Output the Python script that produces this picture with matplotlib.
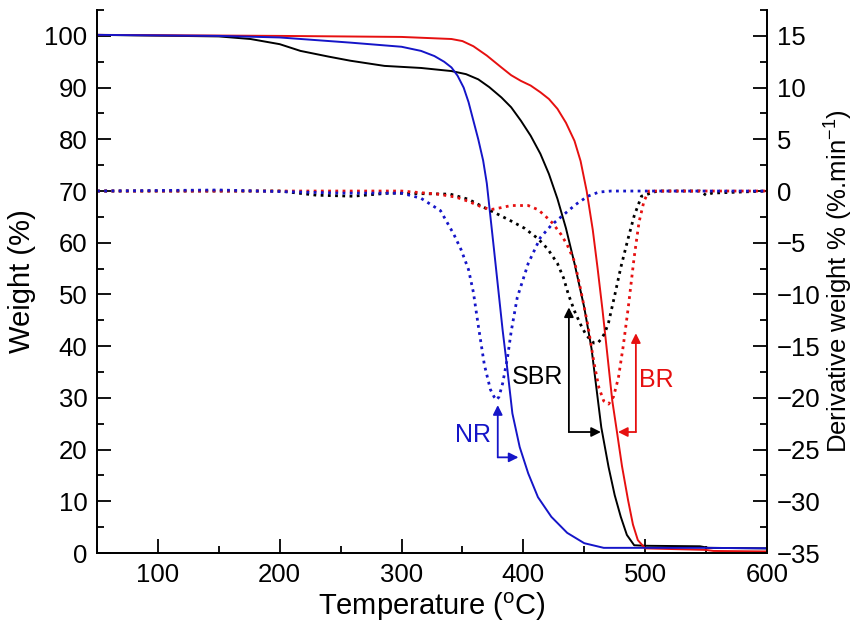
import numpy as np
import matplotlib
matplotlib.use("Agg")
import matplotlib.pyplot as plt

plt.rcParams['font.family'] = ['Liberation Sans', 'DejaVu Sans']
plt.rcParams['mathtext.fontset'] = 'custom'
plt.rcParams['mathtext.rm'] = 'Liberation Sans'
plt.rcParams['mathtext.it'] = 'Liberation Sans'

### TGA weight curves (%) ###
t_nr = [50, 150, 200, 258, 300, 316, 327, 335, 341, 346, 351, 355, 359, 363, 367, 370, 376, 383, 387, 391, 397, 404, 412, 423, 436, 450, 466, 550, 600]
w_nr = [100.2, 100.0, 99.7, 98.7, 97.9, 97.1, 96.1, 95.0, 93.9, 92.3, 90.0, 87.2, 83.6, 80.0, 75.9, 71.5, 58.5, 43.1, 35.3, 27.0, 20.5, 15.4, 10.8, 7.0, 3.9, 1.9, 1.0, 1.0, 0.9]

t_sbr = [50, 150, 176, 200, 217, 240, 258, 286, 316, 341, 353, 363, 372, 382, 390, 398, 406, 414, 421, 428, 435, 442, 450, 456, 464, 470, 475, 480, 485, 491, 500, 545, 552, 600]
w_sbr = [100.2, 99.9, 99.4, 98.4, 97.1, 96.0, 95.2, 94.2, 93.8, 93.2, 92.6, 91.6, 90.1, 88.1, 86.2, 83.6, 80.7, 77.2, 73.3, 68.5, 62.8, 56.0, 47.5, 39.5, 24.3, 16.6, 11.2, 7.0, 3.5, 1.5, 1.4, 1.3, 1.0, 0.9]

t_br = [50, 200, 300, 341, 350, 359, 370, 382, 390, 398, 406, 414, 421, 428, 435, 442, 447, 452, 457, 461, 465, 468, 473, 477, 481, 486, 490, 494, 500, 550, 556, 600]
w_br = [100.2, 100.0, 99.8, 99.4, 99.0, 98.0, 96.2, 93.9, 92.4, 91.3, 90.4, 89.1, 87.8, 85.9, 83.2, 79.7, 75.8, 70.0, 62.5, 55.0, 47.0, 40.5, 29.5, 23.2, 16.8, 10.2, 5.5, 2.5, 0.9, 0.6, 0.4, 0.3]

### DTG curves (%/min) ###
td_nr = [50, 150, 250, 300, 316, 332, 343, 349, 355, 359, 363, 368, 373, 376, 378, 380, 383, 387, 390, 395, 404, 414, 423, 433, 443, 453, 462, 472, 600]
d_nr = [0.0, 0.1, -0.2, -0.2, -0.7, -1.9, -4.2, -5.7, -7.6, -9.8, -13.0, -16.8, -19.2, -19.9, -20.2, -19.9, -18.6, -16.1, -13.6, -10.3, -7.0, -4.5, -3.3, -2.3, -1.3, -0.5, -0.1, 0.0, 0.0]

td_sbr = [50, 200, 230, 260, 290, 340, 355, 368, 380, 390, 401, 412, 420, 428, 433, 437, 442, 447, 451, 455, 458, 461, 464, 467, 470, 475, 480, 486, 491, 497, 510, 545, 550, 555, 600]
d_sbr = [0.0, 0.0, -0.4, -0.5, -0.2, -0.3, -0.8, -1.6, -2.3, -2.9, -3.6, -4.6, -5.6, -7.0, -8.4, -10.0, -11.6, -12.9, -13.8, -14.4, -14.7, -14.7, -14.3, -13.7, -12.7, -10.1, -7.4, -4.6, -2.4, -0.5, 0.0, 0.0, -0.4, -0.2, 0.0]

td_br = [50, 300, 330, 345, 355, 365, 373, 382, 390, 404, 412, 417, 424, 431, 436, 442, 447, 453, 458, 462, 466, 470, 474, 478, 482, 486, 491, 495, 499, 503, 600]
d_br = [0.0, 0.0, -0.3, -0.6, -1.0, -1.5, -1.8, -1.6, -1.4, -1.4, -1.8, -2.3, -3.1, -4.2, -5.2, -6.8, -9.5, -13.0, -16.6, -19.0, -20.3, -20.6, -19.9, -18.1, -15.0, -11.4, -6.4, -3.0, -1.0, 0.0, 0.0]

blue = '#1515c8'
red = '#e61010'

fig = plt.figure(figsize=(8.55, 6.28), dpi=100)
ax = fig.add_axes([0.1135, 0.1194, 0.7835, 0.8646])
ax2 = ax.twinx()

ax.plot(t_sbr, w_sbr, color='black', lw=1.4)
ax.plot(t_br, w_br, color=red, lw=1.4)
ax.plot(t_nr, w_nr, color=blue, lw=1.4)

ax2.plot(td_sbr, d_sbr, color='black', lw=2.0, ls=(0, (1, 1.6)))
ax2.plot(td_br, d_br, color=red, lw=2.0, ls=(0, (1, 1.6)))
ax2.plot(td_nr, d_nr, color=blue, lw=2.0, ls=(0, (1, 1.6)))

ax.set_xlim(50, 600)
ax.set_ylim(0, 105)
ax2.set_ylim(-35, 17.5)

ax.set_xticks(range(100, 601, 100))
ax.set_xticks(range(50, 601, 50), minor=True)
ax.set_yticks(range(0, 101, 10))
ax.set_yticks(range(0, 106, 5), minor=True)
ax2.set_yticks(range(-35, 16, 5))
ax2.set_yticks(np.arange(-35, 17.6, 2.5), minor=True)

for a in (ax, ax2):
    a.spines['top'].set_visible(False)
    for s in ('left', 'right', 'bottom'):
        a.spines[s].set_linewidth(1.3)
    a.tick_params(which='major', direction='in', length=10, width=1.3, labelsize=18.5, pad=7)
    a.tick_params(which='minor', direction='in', length=5, width=1.3)

ax.set_xlabel('Temperature ($^{o}$C)', fontsize=21, labelpad=3)
ax.set_ylabel('Weight (%)', fontsize=21, labelpad=6)
ax2.set_ylabel('Derivative weight % (%.min$^{-1}$)', fontsize=18.5, labelpad=2)

# arrows pointing from DTG peak to TGA curve
arr = dict(arrowstyle='-|>', lw=1.3, mutation_scale=14, shrinkA=0, shrinkB=0)
ax.annotate('', xy=(379, 28.6), xytext=(379, 18.5), arrowprops=dict(arr, color=blue))
ax.annotate('', xy=(396, 18.5), xytext=(379, 18.5), arrowprops=dict(arr, color=blue))
ax.annotate('', xy=(437.4, 47.5), xytext=(437.4, 23.4), arrowprops=dict(arr, color='black'))
ax.annotate('', xy=(463.7, 23.4), xytext=(437.4, 23.4), arrowprops=dict(arr, color='black'))
ax.annotate('', xy=(492.4, 42.5), xytext=(492.4, 23.4), arrowprops=dict(arr, color=red))
ax.annotate('', xy=(477.7, 23.4), xytext=(492.4, 23.4), arrowprops=dict(arr, color=red))

ax.text(358.6, 22.8, 'NR', color=blue, fontsize=18, ha='center', va='center')
ax.text(412, 34, 'SBR', color='black', fontsize=18, ha='center', va='center')
ax.text(509, 33.4, 'BR', color=red, fontsize=18, ha='center', va='center')

plt.savefig('out.png', dpi=100)
